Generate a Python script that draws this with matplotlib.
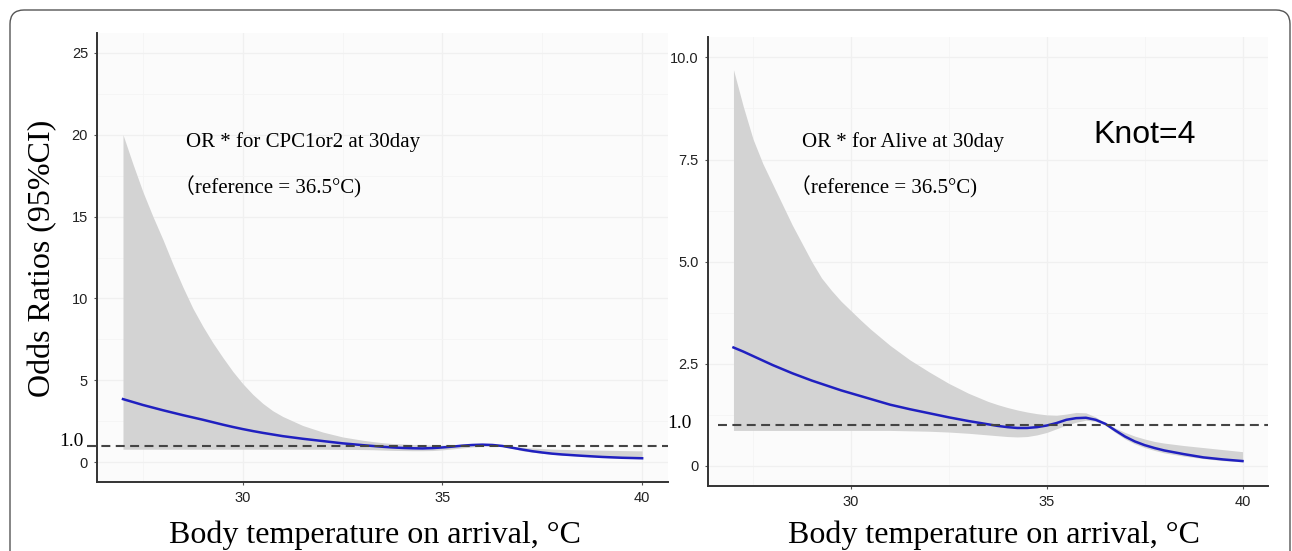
import numpy as np
import matplotlib
matplotlib.use("Agg")
import matplotlib.pyplot as plt
from matplotlib.patches import FancyBboxPatch
from matplotlib.transforms import blended_transform_factory

# body temperature on arrival (deg C)
temps = [27, 27.25, 27.5, 27.75, 28, 28.25, 28.5, 28.75, 29, 29.25, 29.5, 29.75,
         30, 30.25, 30.5, 30.75, 31,
         31.5, 32, 32.5, 33,
         33.25, 33.5, 33.75, 34, 34.25, 34.5, 34.75, 35, 35.25, 35.5, 35.75,
         36, 36.25, 36.5, 36.75, 37, 37.25, 37.5, 37.75, 38,
         38.5, 39, 39.5, 40]

# OR for CPC1or2 at 30 day
cpc_or = [3.86, 3.68, 3.50, 3.34, 3.18, 3.03, 2.88, 2.74, 2.60, 2.45, 2.30, 2.16,
          2.03, 1.91, 1.80, 1.70, 1.60,
          1.44, 1.30, 1.16, 1.05,
          1.00, 0.95, 0.91, 0.88, 0.86, 0.85, 0.87, 0.91, 0.96, 1.02, 1.06,
          1.08, 1.06, 1.00, 0.89, 0.78, 0.68, 0.60, 0.53, 0.48,
          0.40, 0.33, 0.28, 0.25]
cpc_upper = [20.0, 18.2, 16.5, 15.0, 13.6, 12.1, 10.7, 9.4, 8.3, 7.3, 6.4, 5.55,
             4.8, 4.15, 3.6, 3.15, 2.8,
             2.25, 1.85, 1.55, 1.35,
             1.27, 1.20, 1.15, 1.12, 1.09, 1.07, 1.06, 1.05, 1.06, 1.08, 1.12,
             1.14, 1.10, 1.03, 0.97, 0.92, 0.88, 0.84, 0.81, 0.79,
             0.76, 0.74, 0.72, 0.70]
cpc_lower = [0.80, 0.80, 0.80, 0.80, 0.80, 0.80, 0.80, 0.80, 0.80, 0.80, 0.80, 0.80,
             0.80, 0.80, 0.80, 0.80, 0.80,
             0.80, 0.80, 0.79, 0.78,
             0.77, 0.75, 0.73, 0.72, 0.71, 0.71, 0.72, 0.76, 0.82, 0.88, 0.94,
             0.98, 0.99, 0.97, 0.86, 0.70, 0.62, 0.55, 0.49, 0.44,
             0.37, 0.30, 0.25, 0.22]

# OR for Alive at 30 day
alive_or = [2.90, 2.80, 2.69, 2.58, 2.47, 2.37, 2.27, 2.18, 2.09, 2.01, 1.93, 1.85,
            1.78, 1.71, 1.64, 1.57, 1.50,
            1.39, 1.29, 1.19, 1.10,
            1.06, 1.02, 0.98, 0.95, 0.93, 0.93, 0.95, 0.99, 1.05, 1.13, 1.17,
            1.18, 1.13, 1.03, 0.87, 0.72, 0.60, 0.51, 0.44, 0.38,
            0.29, 0.21, 0.16, 0.12]
alive_upper = [9.7, 8.8, 8.0, 7.4, 6.9, 6.4, 5.9, 5.45, 5.0, 4.6, 4.3, 4.03,
               3.8, 3.57, 3.35, 3.15, 2.95,
               2.6, 2.3, 2.02, 1.78,
               1.68, 1.58, 1.50, 1.43, 1.37, 1.32, 1.28, 1.25, 1.24, 1.27, 1.31,
               1.30, 1.20, 1.05, 0.93, 0.82, 0.73, 0.66, 0.60, 0.56,
               0.50, 0.45, 0.40, 0.35]
alive_lower = [0.87, 0.87, 0.87, 0.87, 0.87, 0.87, 0.87, 0.87, 0.87, 0.87, 0.87, 0.87,
               0.87, 0.87, 0.87, 0.87, 0.87,
               0.86, 0.85, 0.83, 0.80,
               0.78, 0.76, 0.74, 0.72, 0.71, 0.72, 0.76, 0.82, 0.91, 1.00, 1.07,
               1.12, 1.09, 1.00, 0.82, 0.66, 0.54, 0.45, 0.38, 0.32,
               0.24, 0.18, 0.13, 0.10]

x_ticks = [30, 35, 40]
cpc_yticks = [0, 5, 10, 15, 20, 25]
cpc_ylabels = ["0", "5", "10", "15", "20", "25"]
alive_yticks = [0, 2.5, 5.0, 7.5, 10.0]
alive_ylabels = ["0", "2.5", "5.0", "7.5", "10.0"]

SERIF = ["Liberation Serif", "DejaVu Serif"]
SERIF_CJK = ["Liberation Serif", "Noto Sans CJK JP", "DejaVu Sans"]
SANS = ["Liberation Sans", "DejaVu Sans"]


def draw_panel(ax, lower, upper, odds, yticks, ylabels, ylim, minor_y):
    ax.set_facecolor("#fbfbfb")
    ax.fill_between(temps, lower, upper, color="#d3d3d3", lw=0, zorder=2)
    ax.plot(temps, odds, color="#2020c0", lw=1.8, zorder=4)

    ax.set_xlim(26.35, 40.65)
    ax.set_ylim(*ylim)
    ax.set_xticks(x_ticks)
    ax.set_xticklabels([str(t) for t in x_ticks], family=SANS, fontsize=10.5)
    ax.set_yticks(yticks)
    ax.set_yticklabels(ylabels, family=SANS, fontsize=10.5)
    ax.set_xticks([27.5, 32.5, 37.5], minor=True)
    ax.set_yticks(minor_y, minor=True)
    ax.tick_params(which="major", length=2.5, width=0.8, color="#555",
                   labelcolor="#222", pad=4)
    ax.tick_params(which="minor", length=0)

    ax.grid(True, which="major", color="#f0f0f0", lw=0.9, zorder=0)
    ax.grid(True, which="minor", color="#f4f4f4", lw=0.6, zorder=0)
    ax.set_axisbelow(True)

    for side in ["top", "right"]:
        ax.spines[side].set_visible(False)
    for side in ["left", "bottom"]:
        ax.spines[side].set_color("#333")
        ax.spines[side].set_linewidth(1.4)


def main() -> None:
    fig = plt.figure(figsize=(12.92, 5.51), dpi=100)

    ax1 = fig.add_axes([0.0751, 0.1252, 0.4420, 0.8149])
    ax2 = fig.add_axes([0.5480, 0.1180, 0.4334, 0.8149])

    draw_panel(ax1, cpc_lower, cpc_upper, cpc_or, cpc_yticks, cpc_ylabels,
               (-1.2, 26.2), [2.5, 7.5, 12.5, 17.5, 22.5])
    draw_panel(ax2, alive_lower, alive_upper, alive_or, alive_yticks, alive_ylabels,
               (-0.49, 10.5), [1.25, 3.75, 6.25, 8.75])

    # reference line at OR = 1
    t1 = blended_transform_factory(ax1.transAxes, ax1.transData)
    ax1.plot([-0.018, 1.0], [1.0, 1.0], transform=t1, clip_on=False,
             color="#444", lw=1.5, dashes=(4.3, 2.6), zorder=5)
    ax1.text(-0.023, 1.25, "1.0", transform=t1, ha="right", va="center",
             family=SERIF, fontsize=14)
    t2 = blended_transform_factory(ax2.transAxes, ax2.transData)
    ax2.plot([0.018, 1.0], [1.0, 1.0], transform=t2, clip_on=False,
             color="#444", lw=1.5, dashes=(4.3, 2.6), zorder=5)
    ax2.text(-0.029, 1.05, "1.0", transform=t2, ha="right", va="center",
             family=SERIF, fontsize=14)

    # annotations
    fig.text(186 / 1292, 1 - 142 / 551, "OR * for CPC1or2 at 30day",
             family=SERIF, fontsize=15, va="center", ha="left")
    fig.text(174 / 1292, 1 - 187 / 551, "（reference = 36.5°C)",
             family=SERIF_CJK, fontsize=15, va="center", ha="left")
    fig.text(802 / 1292, 1 - 142 / 551, "OR * for Alive at 30day",
             family=SERIF, fontsize=15, va="center", ha="left")
    fig.text(790 / 1292, 1 - 187 / 551, "（reference = 36.5°C)",
             family=SERIF_CJK, fontsize=15, va="center", ha="left")
    fig.text(1093 / 1292, 1 - 135 / 551, "Knot=4",
             family=SANS, fontsize=23, va="center", ha="left")

    # axis titles
    fig.text(43 / 1292, 1 - 258 / 551, "Odds Ratios (95%CI)", rotation=90,
             family=SERIF, fontsize=23, va="center", ha="center")
    fig.text(375 / 1292, 1 - 543 / 551, "Body temperature on arrival, °C",
             family=SERIF, fontsize=23, va="baseline", ha="center")
    fig.text(994 / 1292, 1 - 543 / 551, "Body temperature on arrival, °C",
             family=SERIF, fontsize=23, va="baseline", ha="center")

    # rounded frame around the whole figure (bottom runs off the image)
    frame = FancyBboxPatch((10, -40), 1280, 581,
                           boxstyle="round,pad=0,rounding_size=14",
                           transform=None, fill=False, ec="#555", lw=1.0)
    fig.patches.append(frame)

    fig.savefig("out.png", dpi=100)


if __name__ == "__main__":
    main()
